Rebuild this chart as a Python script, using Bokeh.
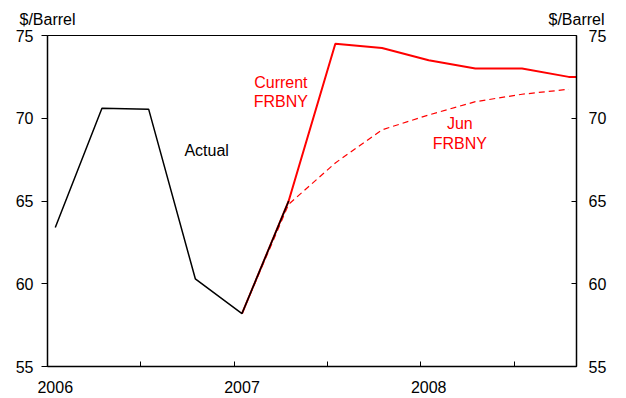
from bokeh.plotting import figure
from bokeh.models import Range1d, LinearAxis, FixedTicker, Label
from bokeh.embed import file_html
from bokeh.resources import INLINE

# ---- data (quarterly, $/barrel) ----
years = [2006, 2006, 2006, 2006, 2007, 2007, 2007, 2007, 2008, 2008, 2008, 2008, 2009]
quarters = [1, 2, 3, 4, 1, 2, 3, 4, 1, 2, 3, 4, 1]
actual = [63.4, 70.6, 70.55, 60.3, 58.2, 65.0]
current_frbny = [None, None, None, None, 58.2, 65.0, 74.5, 74.25, 73.5, 73.0, 73.0, 72.5, 72.5]
jun_frbny = [None, None, None, None, 58.2, 64.8, 67.3, 69.3, 70.2, 71.0, 71.45, 71.75]
year_labels = ["2006", "2007", "2008"]
y_ticks = [55, 60, 65, 70, 75]
unit_label = "$/Barrel"

# x axis in months since Jan 2006; each quarterly value sits mid-way through
# the first month of its quarter
def month(y, q):
    return (y - 2006) * 12 + (q - 1) * 3 + 0.5

xs = [month(y, q) for y, q in zip(years, quarters)]
half_year_ticks = [m for m in range(0, 34, 6)]
year_label_pos = [month(int(lab), 1) for lab in year_labels]

FONT = "Liberation Sans"
RED = "#FF0000"

p = figure(width=626, height=398, output_backend="svg", toolbar_location=None,
           x_range=Range1d(0, 34), y_range=Range1d(55, 75),
           min_border_left=47, min_border_right=50, min_border_top=35, min_border_bottom=32)
p.extra_x_ranges = {"units": Range1d(0, 1)}
p.xgrid.visible = False
p.ygrid.visible = False
p.outline_line_color = "black"
p.outline_line_width = 1
p.background_fill_color = "white"
p.border_fill_color = "white"

# lines
jx = [x for x, v in zip(xs, jun_frbny) if v is not None]
jv = [v for v in jun_frbny if v is not None]
p.line(jx, jv, line_color=RED, line_width=1.2, line_dash="6 4")
cx = [x for x, v in zip(xs, current_frbny) if v is not None]
cv = [v for v in current_frbny if v is not None]
p.line(cx, cv, line_color=RED, line_width=2)
p.line(xs[:len(actual)], actual, line_color="black", line_width=1.5)

# bottom axis: labels at each year's first observation, tick marks every half year
xa = p.xaxis[0]
xa.ticker = FixedTicker(ticks=year_label_pos, minor_ticks=half_year_ticks)
xa.major_label_overrides = {pos: lab for pos, lab in zip(year_label_pos, year_labels)}
xa.major_tick_line_color = None
xa.major_tick_in = 0
xa.major_tick_out = 0
xa.minor_tick_in = 5
xa.minor_tick_out = 0
xa.minor_tick_line_color = "black"
xa.major_label_standoff = 14
xa.major_label_text_font = FONT
xa.major_label_text_font_size = "16px"
xa.major_label_text_color = "black"
xa.axis_line_width = 1.5
xa.axis_line_color = "black"

ya = p.yaxis[0]
ya.ticker = FixedTicker(ticks=y_ticks)
ya.major_tick_in = 0
ya.major_tick_out = 6
ya.minor_tick_line_color = None
ya.major_label_standoff = 8
ya.major_label_text_font = FONT
ya.major_label_text_font_size = "16px"
ya.major_label_text_color = "black"
ya.axis_line_width = 1.5
ya.axis_line_color = "black"

ra = LinearAxis(ticker=FixedTicker(ticks=y_ticks))
ra.major_tick_in = 5
ra.major_tick_out = 0
ra.minor_tick_line_color = None
ra.major_label_standoff = 12
ra.major_label_text_font = FONT
ra.major_label_text_font_size = "16px"
ra.major_label_text_color = "black"
ra.axis_line_width = 1.5
ra.axis_line_color = "black"
p.add_layout(ra, "right")

# unit labels above both value axes
ua = LinearAxis(x_range_name="units", ticker=FixedTicker(ticks=[0, 1]))
ua.major_label_overrides = {0: unit_label, 1: unit_label}
ua.axis_line_color = None
ua.major_tick_line_color = None
ua.minor_tick_line_color = None
ua.major_tick_in = 0
ua.major_tick_out = 0
ua.major_label_standoff = 8
ua.major_label_text_font = FONT
ua.major_label_text_font_size = "16px"
ua.major_label_text_color = "black"
p.add_layout(ua, "above")

# series annotations
def note(x, y, text, color, align="left"):
    p.add_layout(Label(x=x, y=y, text=text, text_align=align, text_baseline="alphabetic",
                       text_font=FONT, text_font_size="16px", text_color=color))

note(8.8, 68.08, "Actual", "black")
note(15.0, 72.16, "Current", RED, "center")
note(15.0, 71.02, "FRBNY", RED, "center")
note(26.5, 69.69, "Jun", RED, "center")
note(26.5, 68.50, "FRBNY", RED, "center")

open("out.html", "w").write(file_html(p, INLINE))
